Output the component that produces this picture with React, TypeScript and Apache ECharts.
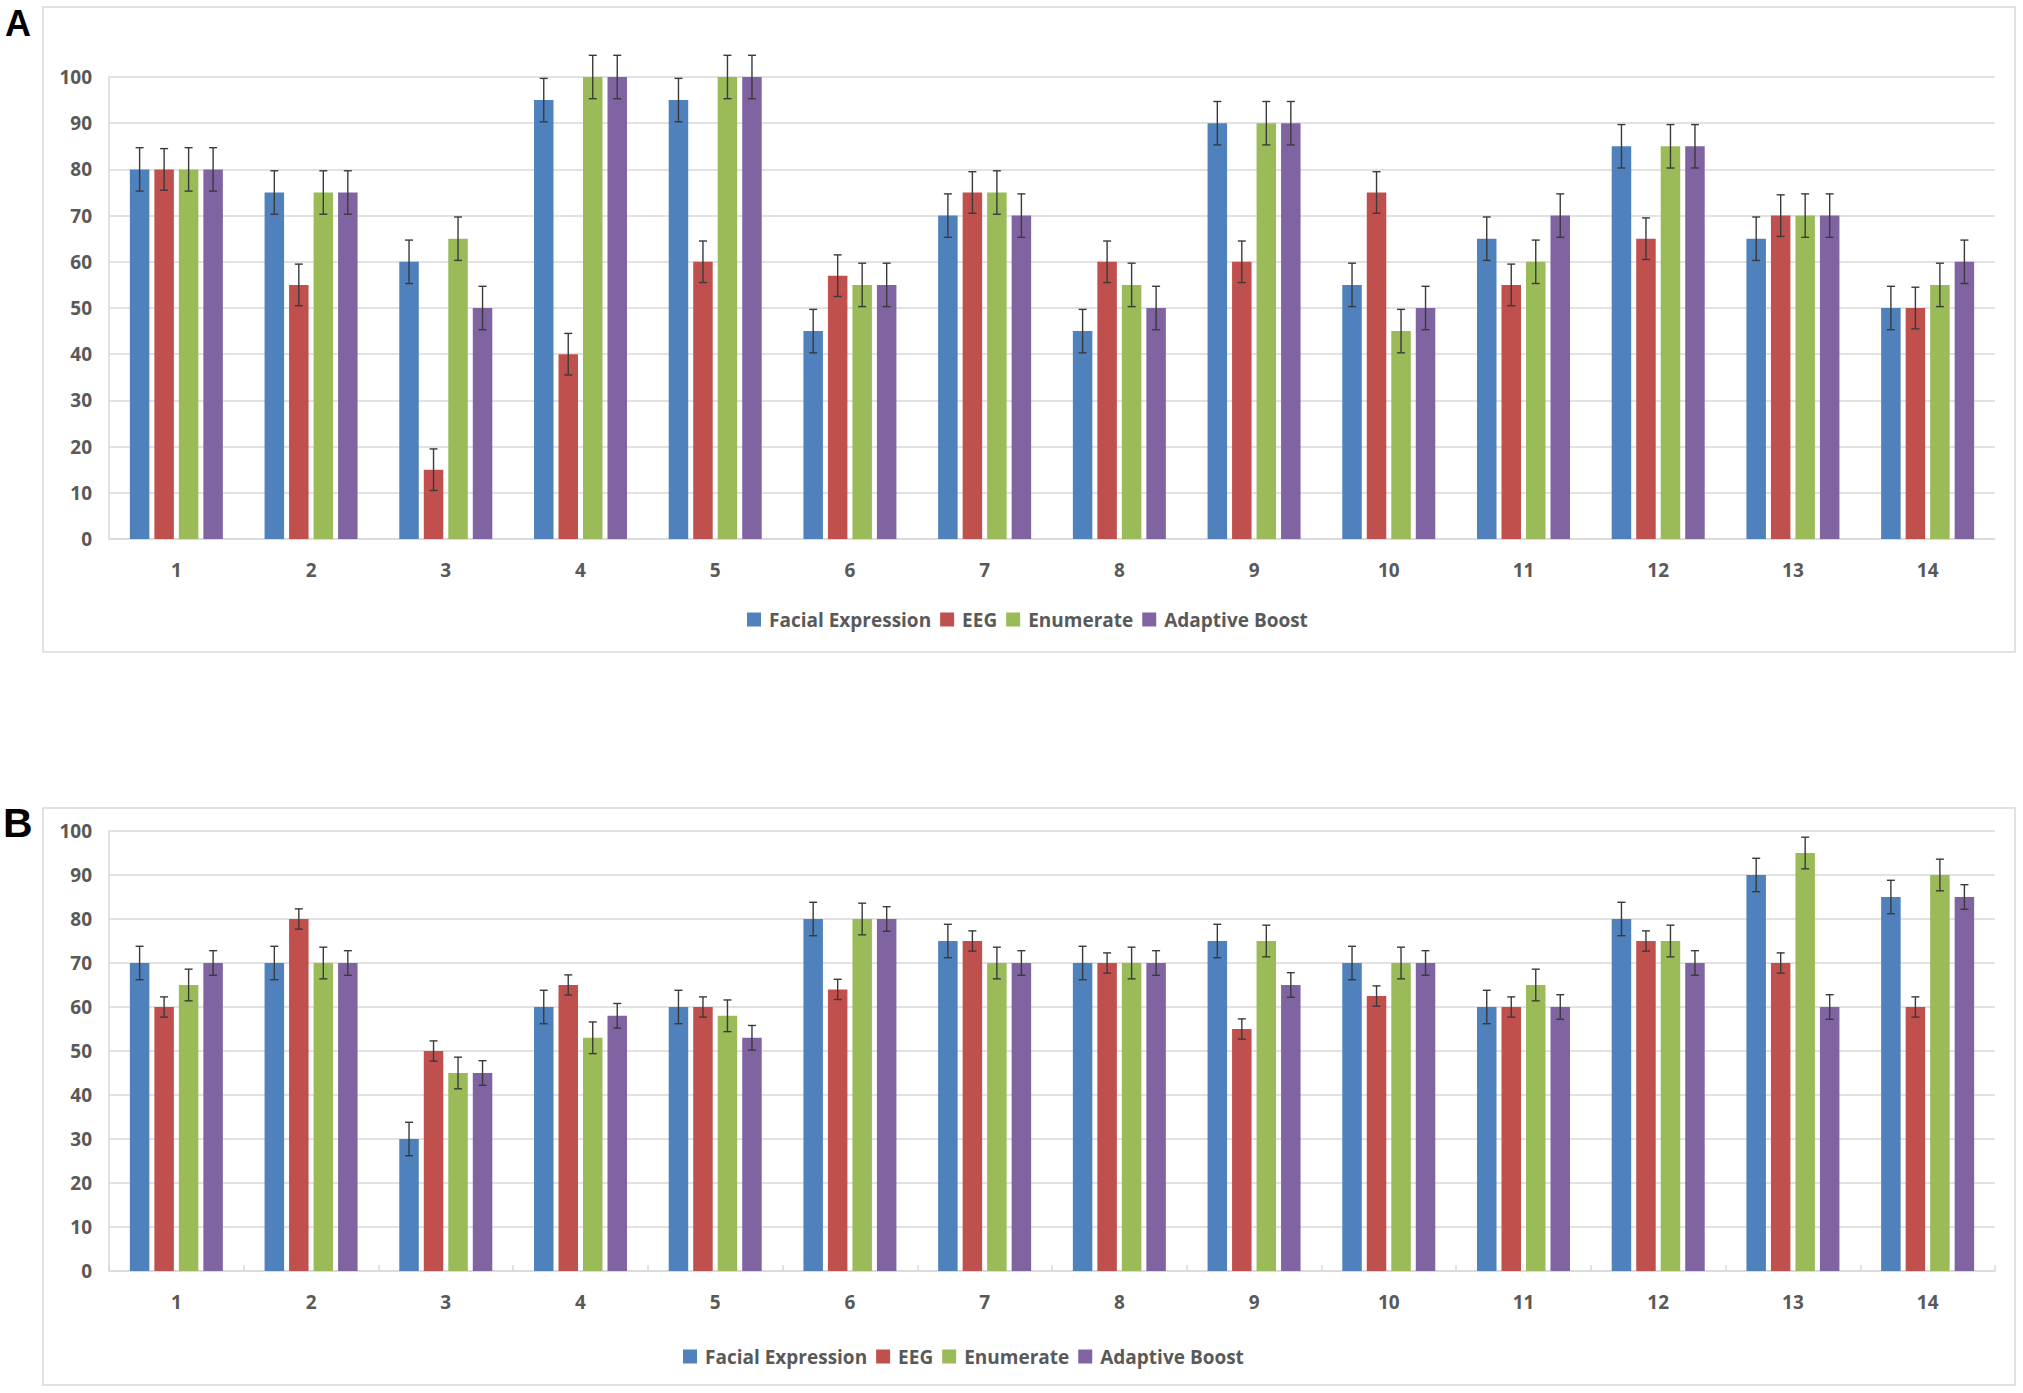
import React, { useEffect, useRef } from "react";
import * as echarts from "echarts";

const categories = ["1", "2", "3", "4", "5", "6", "7", "8", "9", "10", "11", "12", "13", "14"];
const seriesNames = ["Facial Expression", "EEG", "Enumerate", "Adaptive Boost"];
const colors = ["#4f81bd", "#c0504d", "#9bbb59", "#8064a2"];

// Panel A values
const aFacial = [80, 75, 60, 95, 95, 45, 70, 45, 90, 55, 65, 85, 65, 50];
const aEEG = [80, 55, 15, 40, 60, 57, 75, 60, 60, 75, 55, 65, 70, 50];
const aEnumerate = [80, 75, 65, 100, 100, 55, 75, 55, 90, 45, 60, 85, 70, 55];
const aAdaptive = [80, 75, 50, 100, 100, 55, 70, 50, 90, 50, 70, 85, 70, 60];
const aErrors = [4.7, 4.5, 4.7, 4.7];

// Panel B values
const bFacial = [70, 70, 30, 60, 60, 80, 75, 70, 75, 70, 60, 80, 90, 85];
const bEEG = [60, 80, 50, 65, 60, 64, 75, 70, 55, 62.5, 60, 75, 70, 60];
const bEnumerate = [65, 70, 45, 53, 58, 80, 70, 70, 75, 70, 65, 75, 95, 90];
const bAdaptive = [70, 70, 45, 58, 53, 80, 70, 70, 65, 70, 60, 70, 60, 85];
const bErrors = [3.8, 2.3, 3.6, 2.8];

const yTicks = { min: 0, max: 100, interval: 10 };

const FONT = "Open Sans";
const TEXT_COLOR = "#595959";
const GRID_COLOR = "#d9d9d9";
const BAR_W = 19.5;
const BAR_GAP_PX = 5;
const STEP = BAR_W + BAR_GAP_PX;
const OFFS = [-1.5, -0.5, 0.5, 1.5];

function errorRender(k: number) {
  return (params: any, api: any) => {
    const ci = api.value(0);
    const v = api.value(1);
    const e = api.value(2);
    const top = api.coord([ci, v + e]);
    const bot = api.coord([ci, v - e]);
    const x = top[0] + OFFS[k] * STEP;
    const style = { stroke: "#3a3a3a", lineWidth: 1.4 };
    return {
      type: "group",
      children: [
        { type: "line", shape: { x1: x, y1: top[1], x2: x, y2: bot[1] }, style },
        { type: "line", shape: { x1: x - 4, y1: top[1], x2: x + 4, y2: top[1] }, style },
        { type: "line", shape: { x1: x - 4, y1: bot[1], x2: x + 4, y2: bot[1] }, style },
      ],
    };
  };
}

function buildSeries(values: number[][], errs: number[], axisIndex: number) {
  const out: any[] = [];
  values.forEach((vals, k) => {
    out.push({
      type: "bar",
      name: seriesNames[k],
      xAxisIndex: axisIndex,
      yAxisIndex: axisIndex,
      data: vals,
      barWidth: BAR_W,
      barGap: (BAR_GAP_PX / BAR_W) * 100 + "%",
      itemStyle: { color: colors[k] },
    });
  });
  values.forEach((vals, k) => {
    out.push({
      type: "custom",
      xAxisIndex: axisIndex,
      yAxisIndex: axisIndex,
      z: 5,
      renderItem: errorRender(k),
      encode: { x: 0, y: 1 },
      data: vals.map((v, i) => [i, v, errs[k]]),
    });
  });
  return out;
}

const axisLabelStyle = {
  fontFamily: FONT,
  fontSize: 19,
  fontWeight: "bold",
  color: TEXT_COLOR,
};

function xAxisCfg(gridIndex: number, ticks: boolean) {
  return {
    type: "category",
    gridIndex,
    data: categories,
    axisLine: { show: true, lineStyle: { color: GRID_COLOR, width: 1.5 } },
    axisTick: { show: ticks, inside: true, length: 6, lineStyle: { color: GRID_COLOR, width: 1.5 } },
    axisLabel: { ...axisLabelStyle, margin: 21 },
  };
}

function yAxisCfg(gridIndex: number) {
  return {
    type: "value",
    gridIndex,
    min: yTicks.min,
    max: yTicks.max,
    interval: yTicks.interval,
    axisLine: { show: true, lineStyle: { color: GRID_COLOR, width: 1.5 } },
    axisTick: { show: false },
    splitLine: { show: true, lineStyle: { color: GRID_COLOR, width: 1.5 } },
    axisLabel: { ...axisLabelStyle, margin: 17 },
  };
}

function legendCfg(left: number, top: number) {
  return {
    data: seriesNames,
    left,
    top,
    padding: 0,
    icon: "rect",
    itemWidth: 14,
    itemHeight: 14,
    itemGap: 9,
    selectedMode: false,
    textStyle: {
      fontFamily: FONT,
      fontSize: 19,
      fontWeight: "bold",
      color: TEXT_COLOR,
      padding: [0, 0, 0, 3],
    },
  };
}

export default function App() {
  const ref = useRef<HTMLDivElement>(null);
  useEffect(() => {
    if (!ref.current) return;
    const chart = echarts.init(ref.current, null, { renderer: "svg" });
    const option: any = {
      animation: false,
      backgroundColor: "#ffffff",
      grid: [
        { left: 109, right: 28, top: 77, height: 462 },
        { left: 109, right: 28, top: 831, height: 440 },
      ],
      xAxis: [xAxisCfg(0, false), xAxisCfg(1, true)],
      yAxis: [yAxisCfg(0), yAxisCfg(1)],
      legend: [legendCfg(747, 610), legendCfg(683, 1347)],
      series: [
        ...buildSeries([aFacial, aEEG, aEnumerate, aAdaptive], aErrors, 0),
        ...buildSeries([bFacial, bEEG, bEnumerate, bAdaptive], bErrors, 1),
      ],
      graphic: [
        {
          type: "rect",
          shape: { x: 43, y: 7, width: 1972, height: 645 },
          style: { fill: "none", stroke: GRID_COLOR, lineWidth: 1.5 },
          z: -1,
        },
        {
          type: "rect",
          shape: { x: 43, y: 808, width: 1972, height: 577 },
          style: { fill: "none", stroke: GRID_COLOR, lineWidth: 1.5 },
          z: -1,
        },
        {
          type: "text",
          x: 5,
          y: 23,
          style: {
            text: "A",
            fontFamily: "Liberation Sans",
            fontWeight: "bold",
            fontSize: 36,
            fill: "#000",
            textVerticalAlign: "middle",
          },
        },
        {
          type: "text",
          x: 3,
          y: 823,
          style: {
            text: "B",
            fontFamily: "Liberation Sans",
            fontWeight: "bold",
            fontSize: 41,
            fill: "#000",
            textVerticalAlign: "middle",
          },
        },
      ],
    };
    chart.setOption(option);
    return () => chart.dispose();
  }, []);
  return (
    <div
      ref={ref}
      style={{ position: "fixed", left: 0, top: 0, width: 2023, height: 1393, background: "#fff" }}
    />
  );
}
